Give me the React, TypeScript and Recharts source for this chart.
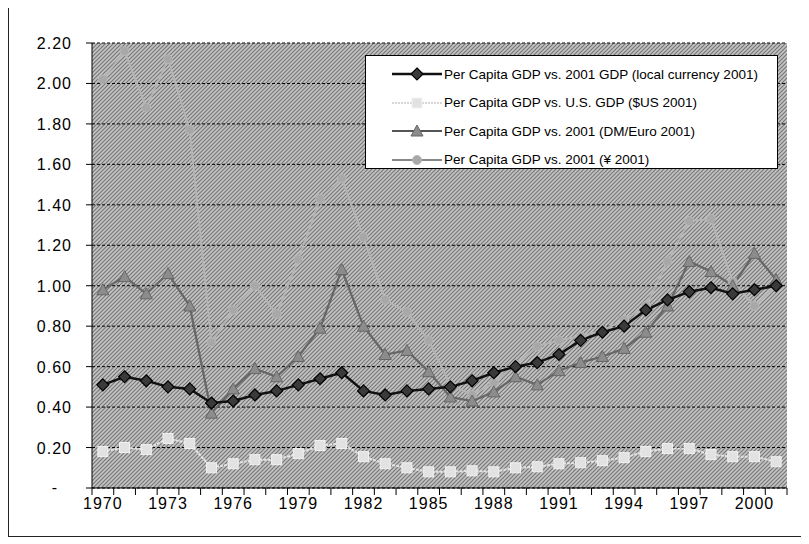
import { LineChart, Line, XAxis, YAxis, CartesianGrid, Legend } from "recharts";

const years = [
  1970, 1971, 1972, 1973, 1974, 1975, 1976, 1977, 1978, 1979, 1980,
  1981, 1982, 1983, 1984, 1985, 1986, 1987, 1988, 1989, 1990,
  1991, 1992, 1993, 1994, 1995, 1996, 1997, 1998, 1999, 2000, 2001,
];

const localCurrency = [
  0.51, 0.55, 0.53, 0.5, 0.49, 0.42, 0.43, 0.46, 0.48, 0.51, 0.54,
  0.57, 0.48, 0.46, 0.48, 0.49, 0.5, 0.53, 0.57, 0.6, 0.62,
  0.66, 0.73, 0.77, 0.8, 0.88, 0.93, 0.97, 0.99, 0.96, 0.98, 1.0,
];

const usDollar = [
  0.18, 0.2, 0.19, 0.245, 0.22, 0.1, 0.12, 0.14, 0.14, 0.17, 0.21,
  0.22, 0.155, 0.12, 0.1, 0.08, 0.08, 0.085, 0.08, 0.1, 0.105,
  0.12, 0.125, 0.135, 0.15, 0.18, 0.195, 0.195, 0.165, 0.155, 0.155, 0.13,
];

const dmEuro = [
  0.98, 1.045, 0.96, 1.06, 0.9, 0.37, 0.49, 0.59, 0.55, 0.65, 0.79,
  1.08, 0.8, 0.66, 0.68, 0.575, 0.45, 0.43, 0.475, 0.55, 0.51,
  0.58, 0.62, 0.65, 0.69, 0.77, 0.9, 1.12, 1.07, 1.0, 1.16, 1.03,
];

const yen = [
  2.02, 2.16, 1.88, 2.12, 1.77, 0.72, 0.88, 1.0, 0.86, 1.13, 1.43,
  1.53, 1.24, 0.93, 0.87, 0.73, 0.51, 0.46, 0.52, 0.61, 0.7,
  0.73, 0.75, 0.78, 0.83, 0.9, 1.12, 1.32, 1.33, 1.02, 0.9, 1.0,
];

const yTicks = [0, 0.2, 0.4, 0.6, 0.8, 1.0, 1.2, 1.4, 1.6, 1.8, 2.0, 2.2];
const labelYears = [1970, 1973, 1976, 1979, 1982, 1985, 1988, 1991, 1994, 1997, 2000];

const seriesNames = [
  "Per Capita GDP vs. 2001 GDP (local currency 2001)",
  "Per Capita GDP vs. U.S. GDP ($US 2001)",
  "Per Capita GDP vs. 2001 (DM/Euro 2001)",
  "Per Capita GDP vs. 2001 (\u00a5 2001)",
];

const rows = years.map((year, i) => ({
  year,
  local: localCurrency[i],
  usd: usDollar[i],
  dm: dmEuro[i],
  yen: yen[i],
}));

// tick marks sit between the years, like an Excel category axis
const boundaries = [...years.map((y) => y - 0.5), years[years.length - 1] + 0.5];

const W = 793;
const H = 528;
const MARGIN = { top: 35, right: 15, bottom: 18, left: 33 };
const Y_WIDTH = 50;
const plotWidth = W - MARGIN.left - MARGIN.right - Y_WIDTH;
const step = plotWidth / years.length;

const FONT = '"Liberation Sans", Arial, sans-serif';

const Diamond = ({ cx, cy }: any) => (
  <path d={`M${cx},${cy - 6} L${cx + 6},${cy} L${cx},${cy + 6} L${cx - 6},${cy} Z`} fill="#3a3a3a" stroke="#000" strokeWidth={1.2} />
);
const Square = ({ cx, cy }: any) => (
  <rect x={cx - 5} y={cy - 5} width={10} height={10} fill="#e2e2e2" stroke="#f2f2f2" strokeWidth={1} />
);
const Triangle = ({ cx, cy }: any) => (
  <path d={`M${cx},${cy - 6} L${cx + 6},${cy + 5} L${cx - 6},${cy + 5} Z`} fill="#8c8c8c" stroke="#666" strokeWidth={1} />
);
const Circle = ({ cx, cy }: any) => (
  <circle cx={cx} cy={cy} r={4.5} fill="#a8a8a8" stroke="#b8b8b8" strokeWidth={1} />
);

const YearTick = ({ x, y, payload }: any) => {
  const yr = payload.value + 0.5;
  if (!labelYears.includes(yr)) return <g />;
  return (
    <text x={x + step / 2} y={y + 12} textAnchor="middle" fontFamily={FONT} fontSize={16} letterSpacing={1} fill="#000">
      {yr}
    </text>
  );
};

const ValueTick = ({ x, y, payload }: any) => {
  const v = payload.value;
  if (v === 0) {
    return (
      <text x={x - 15} y={y + 5} textAnchor="end" fontFamily={FONT} fontSize={16} fill="#000">
        -
      </text>
    );
  }
  return (
    <text x={x} y={y + 6} textAnchor="end" fontFamily={FONT} fontSize={16} letterSpacing={1} fill="#000">
      {v.toFixed(2)}
    </text>
  );
};

const legendSymbols = [
  { stroke: "#111", width: 2.5, dash: undefined, Mark: Diamond },
  { stroke: "#d6d6d6", width: 2, dash: "2 1", Mark: Square },
  { stroke: "#555", width: 2, dash: undefined, Mark: Triangle },
  { stroke: "#888", width: 2, dash: undefined, Mark: Circle },
];

const LegendBox = () => (
  <div
    style={{
      width: 413,
      height: 114,
      boxSizing: "border-box",
      border: "1.5px solid #000",
      background: "#fff",
      paddingTop: 4,
      fontFamily: FONT,
      fontSize: 13.5,
      color: "#000",
    }}
  >
    {seriesNames.map((name, i) => {
      const s = legendSymbols[i];
      const M = s.Mark;
      return (
        <div key={name} style={{ display: "flex", alignItems: "center", height: 28.5 }}>
          <svg width={78} height={20} style={{ flex: "none" }}>
            <line x1={26} y1={10} x2={76} y2={10} stroke={s.stroke} strokeWidth={s.width} strokeDasharray={s.dash} />
            <M cx={51} cy={10} />
          </svg>
          <span style={{ whiteSpace: "nowrap" }}>{name}</span>
        </div>
      );
    })}
  </div>
);

export default function App() {
  return (
    <div style={{ position: "relative", width: W, height: H, borderLeft: "1px solid #222", borderBottom: "1px solid #222" }}>
      <svg width={0} height={0} style={{ position: "absolute" }}>
        <defs>
          <pattern id="hatch" width={4} height={4} patternUnits="userSpaceOnUse">
            <rect width={4} height={4} fill="#c4c4c4" />
            <path d="M-1,1 l2,-2 M0,4 l4,-4 M3,5 l2,-2" stroke="#777" strokeWidth={1.2} />
          </pattern>
        </defs>
      </svg>
      <LineChart width={W} height={H} data={rows} margin={MARGIN}>
        <CartesianGrid vertical={false} stroke="#000" strokeDasharray="3 2" fill="url(#hatch)" fillOpacity={1} />
        <XAxis
          dataKey="year"
          type="number"
          domain={[boundaries[0], boundaries[boundaries.length - 1]]}
          ticks={boundaries}
          interval={0}
          tick={<YearTick />}
          tickSize={7}
          height={30}
          axisLine={{ stroke: "#000" }}
          tickLine={{ stroke: "#000" }}
        />
        <YAxis
          domain={[0, 2.2]}
          ticks={yTicks}
          interval={0}
          width={Y_WIDTH}
          tickSize={6}
          tickMargin={14}
          tick={<ValueTick />}
          axisLine={{ stroke: "#000" }}
          tickLine={{ stroke: "#000" }}
        />
        <Legend
          layout="horizontal"
          verticalAlign="middle"
          align="center"
          content={<LegendBox />}
          wrapperStyle={{ left: 356, top: 47, width: 413 }}
        />
        <Line dataKey="yen" name={seriesNames[3]} stroke="#b4b4b4" strokeWidth={2} dot={(p: any) => <Circle key={`c${p.index}`} {...p} />} isAnimationActive={false} />
        <Line dataKey="usd" name={seriesNames[1]} stroke="#e4e4e4" strokeWidth={2} strokeDasharray="3 1" dot={(p: any) => <Square key={`s${p.index}`} {...p} />} isAnimationActive={false} />
        <Line dataKey="dm" name={seriesNames[2]} stroke="#666" strokeWidth={2.2} dot={(p: any) => <Triangle key={`t${p.index}`} {...p} />} isAnimationActive={false} />
        <Line dataKey="local" name={seriesNames[0]} stroke="#111" strokeWidth={2.5} dot={(p: any) => <Diamond key={`d${p.index}`} {...p} />} isAnimationActive={false} />
      </LineChart>
    </div>
  );
}
